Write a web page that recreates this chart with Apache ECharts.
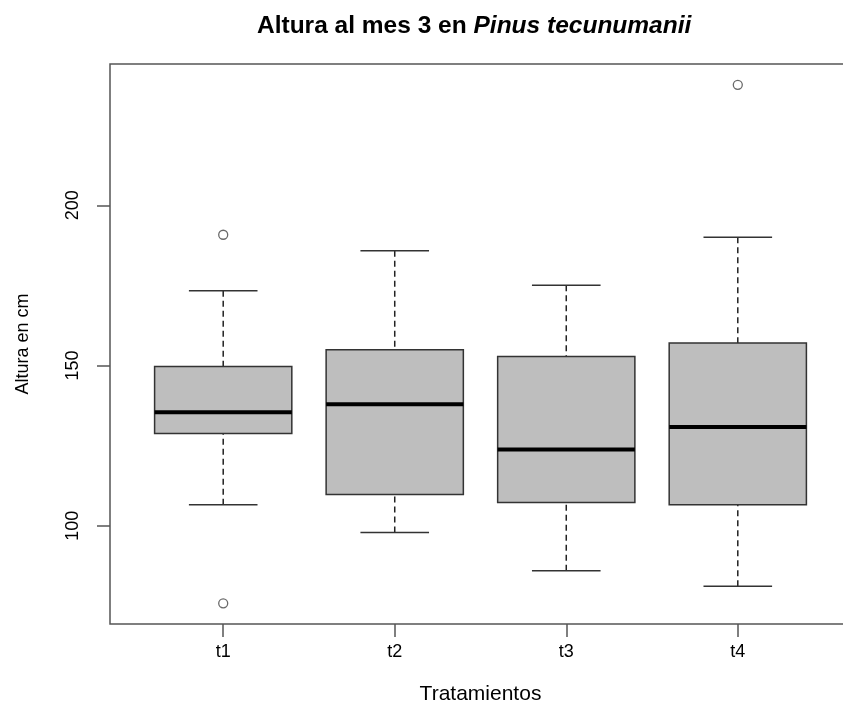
<!DOCTYPE html>
<html>
<head>
<meta charset="utf-8">
<script src="https://cdn.jsdelivr.net/npm/echarts@6/dist/echarts.min.js"></script>
<style>html,body{margin:0;padding:0;background:#fff}#c{width:843px;height:713px}</style>
</head>
<body>
<div id="c"></div>
<script>
var categories = ['t1', 't2', 't3', 't4'];
var lowWhisker = [106.5, 97.9, 85.9, 81.1];
var q1 = [128.75, 109.7, 107.2, 106.5];
var median = [135.4, 137.9, 123.75, 130.8];
var q3 = [149.7, 154.9, 152.8, 157.0];
var highWhisker = [173.3, 185.8, 175.0, 190.0];
var outlierGroup = [1, 1, 4];
var outlierValue = [190.8, 75.75, 237.6];
var yTicks = [100, 150, 200];

var boxData = categories.map(function (c, i) {
  return [i + 1, lowWhisker[i], q1[i], median[i], q3[i], highWhisker[i]];
});
var outlierData = outlierValue.map(function (v, i) { return [outlierGroup[i], v]; });

var FONT = 'Liberation Sans, Arial, sans-serif';
var chart = echarts.init(document.getElementById('c'));
chart.setOption({
  animation: false,
  backgroundColor: '#fff',
  title: {
    left: 252, top: 9,
    text: '{a|Altura al mes 3 en }{b|Pinus tecunumanii}',
    textStyle: {
      rich: {
        a: { fontFamily: FONT, fontWeight: 'bold', fontSize: 24.5, color: '#000' },
        b: { fontFamily: FONT, fontWeight: 'bold', fontStyle: 'italic', fontSize: 24.5, color: '#000' }
      }
    }
  },
  grid: {
    left: 110, top: 64, width: 741, height: 560,
    outerBoundsMode: 'none', containLabel: false,
    show: true, borderColor: '#555', borderWidth: 1.5, backgroundColor: 'transparent'
  },
  xAxis: {
    type: 'value', min: 0.34, max: 4.66,
    name: 'Tratamientos', nameLocation: 'middle', nameGap: 60,
    nameTextStyle: { fontFamily: FONT, fontSize: 21, color: '#000' },
    axisLine: { show: false },
    splitLine: { show: false },
    axisTick: { show: true, customValues: [1, 2, 3, 4], length: 13, lineStyle: { color: '#555', width: 1.5 } },
    axisLabel: {
      customValues: [1, 2, 3, 4], margin: 19,
      fontFamily: FONT, fontSize: 18, color: '#000',
      formatter: function (v) { return categories[Math.round(v) - 1]; }
    }
  },
  yAxis: {
    type: 'value', min: 69.3, max: 244.1,
    name: 'Altura en cm', nameLocation: 'middle', nameGap: 78, nameRotate: 90,
    nameTextStyle: { fontFamily: FONT, fontSize: 18, color: '#000' },
    axisLine: { show: false },
    splitLine: { show: false },
    axisTick: { show: true, customValues: yTicks, length: 13, lineStyle: { color: '#555', width: 1.5 } },
    axisLabel: {
      customValues: yTicks, rotate: 90, margin: 28,
      fontFamily: FONT, fontSize: 18, color: '#000'
    }
  },
  series: [
    {
      type: 'custom',
      data: boxData,
      encode: { x: 0, y: [1, 2, 3, 4, 5] },
      renderItem: function (params, api) {
        var x = api.value(0);
        var lo = api.coord([x, api.value(1)]);
        var b1 = api.coord([x - 0.4, api.value(2)]);
        var med = api.coord([x, api.value(3)]);
        var b3 = api.coord([x + 0.4, api.value(4)]);
        var hi = api.coord([x, api.value(5)]);
        var capL = api.coord([x - 0.2, 0])[0];
        var capR = api.coord([x + 0.2, 0])[0];
        var boxL = b1[0], boxR = b3[0];
        var dash = { stroke: '#222', lineWidth: 1.5, lineDash: [6, 4] };
        var solid = { stroke: '#333', lineWidth: 1.5 };
        return {
          type: 'group',
          children: [
            { type: 'line', shape: { x1: lo[0], y1: lo[1], x2: lo[0], y2: b1[1] }, style: dash },
            { type: 'line', shape: { x1: hi[0], y1: hi[1], x2: hi[0], y2: b3[1] }, style: dash },
            { type: 'line', shape: { x1: capL, y1: lo[1], x2: capR, y2: lo[1] }, style: solid },
            { type: 'line', shape: { x1: capL, y1: hi[1], x2: capR, y2: hi[1] }, style: solid },
            { type: 'rect', shape: { x: boxL, y: b3[1], width: boxR - boxL, height: b1[1] - b3[1] },
              style: { fill: '#bebebe', stroke: '#333', lineWidth: 1.5 } },
            { type: 'line', shape: { x1: boxL, y1: med[1], x2: boxR, y2: med[1] }, style: { stroke: '#000', lineWidth: 4 } }
          ]
        };
      }
    },
    {
      type: 'scatter',
      data: outlierData,
      symbol: 'circle',
      symbolSize: 9,
      itemStyle: { color: '#fff', borderColor: '#444', borderWidth: 1.3 }
    }
  ]
});
</script>
</body>
</html>
